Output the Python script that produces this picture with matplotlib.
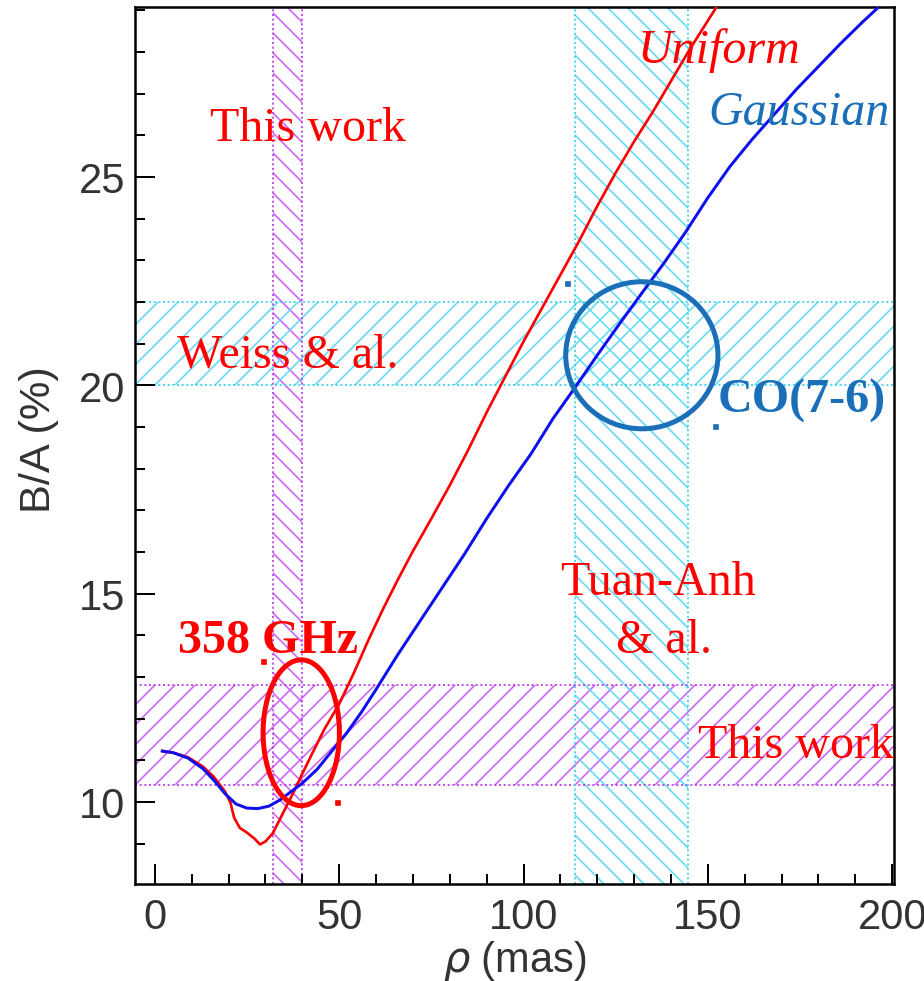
import matplotlib
matplotlib.use("Agg")
import matplotlib.pyplot as plt
from matplotlib.patches import Ellipse

# B/A ratio versus rho for the two disc models
rho_gauss = [2, 5, 9, 13, 16, 19, 22, 25, 28, 31, 34, 37, 40, 44, 48, 52, 56, 60,
             66, 72, 78, 84, 90, 96, 102, 108, 114, 120, 126, 132, 138, 144, 150,
             156, 162, 168, 174, 180, 186, 192, 196]
ba_gauss = [11.22, 11.18, 11.05, 10.80, 10.52, 10.20, 9.95, 9.85, 9.84, 9.90,
            10.05, 10.25, 10.45, 10.78, 11.22, 11.65, 12.15, 12.70, 13.55, 14.35,
            15.15, 15.95, 16.80, 17.60, 18.35, 19.20, 19.95, 20.72, 21.47, 22.20,
            22.92, 23.68, 24.50, 25.25, 25.90, 26.50, 27.10, 27.65, 28.20, 28.72,
            29.05]

rho_unif = [2, 5, 9, 13, 16, 19, 20.5, 21.5, 23, 25, 27, 28.5, 30, 32, 34, 36,
            38, 40, 43, 46, 50, 54, 58, 62, 66, 70, 75, 80, 85, 90, 95, 100, 105,
            110, 115, 120, 125, 130, 135, 140, 145, 150, 152.5]
ba_unif = [11.22, 11.18, 11.07, 10.85, 10.60, 10.25, 9.98, 9.62, 9.38, 9.26,
           9.12, 8.98, 9.05, 9.25, 9.60, 9.95, 10.30, 10.68, 11.22, 11.75, 12.35,
           13.10, 13.90, 14.65, 15.35, 16.02, 16.80, 17.60, 18.45, 19.35, 20.20,
           21.05, 21.85, 22.65, 23.45, 24.30, 25.10, 25.85, 26.55, 27.30, 28.05,
           28.75, 29.10]

# constraint bands: (low, high)
this_work_rho = (32, 40)
this_work_ba = (10.4, 12.8)
tuan_anh_rho = (114, 144.5)
weiss_ba = (20.0, 22.0)

# highlighted solutions: centre x, centre y, width, height
ell_358 = (39.7, 11.66, 20.7, 3.5)
ell_co = (132.1, 20.72, 41.3, 3.53)

MAG = "#cc66f5"
MAG_EDGE = "#b833ee"
CYAN = "#66dcf2"
CYAN_EDGE = "#33d0ee"
RED = "#ff0000"
BLUE = "#1010ee"
DBLUE = "#1a6fb8"

plt.rcParams["hatch.linewidth"] = 1.0

fig = plt.figure(figsize=(7.7, 8.1833), dpi=120)
ax = fig.add_axes([0.1461, 0.0988, 0.8214, 0.8931])
ax.set_xlim(-5.4, 200.5)
ax.set_ylim(8.03, 29.08)

# hatched bands
ax.axvspan(*this_work_rho, facecolor="none", edgecolor=MAG, hatch="\\\\", lw=0, zorder=1)
ax.axhspan(*this_work_ba, facecolor="none", edgecolor=MAG, hatch="//", lw=0, zorder=1)
ax.axvspan(*tuan_anh_rho, facecolor="none", edgecolor=CYAN, hatch="\\\\", lw=0, zorder=1)
ax.axhspan(*weiss_ba, facecolor="none", edgecolor=CYAN, hatch="//", lw=0, zorder=1)
for v in this_work_rho:
    ax.axvline(v, color=MAG_EDGE, ls=(0, (1.2, 1.6)), lw=1.0, zorder=1)
for v in this_work_ba:
    ax.axhline(v, color=MAG_EDGE, ls=(0, (1.2, 1.6)), lw=1.0, zorder=1)
for v in tuan_anh_rho:
    ax.axvline(v, color=CYAN_EDGE, ls=(0, (1.2, 1.6)), lw=1.0, zorder=1)
for v in weiss_ba:
    ax.axhline(v, color=CYAN_EDGE, ls=(0, (1.2, 1.6)), lw=1.0, zorder=1)

# model curves
ax.plot(rho_unif, ba_unif, color=RED, lw=1.6, zorder=3)
ax.plot(rho_gauss, ba_gauss, color=BLUE, lw=1.8, zorder=3)

# circled solutions
x, y, w, h = ell_358
ax.add_patch(Ellipse((x, y), w, h, fill=False, ec=RED, lw=3.0, zorder=4))
ax.plot([x - w / 2 * 0.97, x + w / 2 * 0.97], [y + h / 2 * 0.97, y - h / 2 * 0.97],
        ls="none", marker="s", ms=2.6, color=RED, zorder=4)
x, y, w, h = ell_co
ax.add_patch(Ellipse((x, y), w, h, fill=False, ec=DBLUE, lw=3.0, zorder=4))
ax.plot([x - w / 2 * 0.97, x + w / 2 * 0.97], [y + h / 2 * 0.97, y - h / 2 * 0.97],
        ls="none", marker="s", ms=2.6, color=DBLUE, zorder=4)

# annotations
serif = "Liberation Serif"
tk = dict(family=serif, fontsize=28.8, ha="center", va="baseline", clip_on=False, zorder=5)
ax.text(41.6, 25.89, "This work", color=RED, **tk)
ax.text(36.1, 20.44, "Weiss & al.", color=RED, **tk)
ax.text(136.5, 14.99, "Tuan-Anh", color=RED, **tk)
ax.text(138.2, 13.60, "& al.", color=RED, **tk)
ax.text(173.8, 11.08, "This work", color=RED, **tk)
ax.text(30.6, 13.60, "358 GHz", color=RED, fontweight="bold", **tk)
ax.text(175.4, 19.36, "CO(7-6)", color=DBLUE, fontweight="bold", **tk)
ax.text(153.1, 27.76, "Uniform", color=RED, fontstyle="italic", **tk)
ax.text(174.6, 26.27, "Gaussian", color=DBLUE, fontstyle="italic", **tk)

# axes styling
ax.set_xticks([0, 50, 100, 150, 200])
ax.set_xticks(range(10, 200, 10), minor=True)
ax.set_yticks([10, 15, 20, 25])
ax.set_yticks(range(9, 30), minor=True)
ax.tick_params(which="both", direction="in", top=False, right=False,
               colors="black", labelcolor="#333333", width=1.2)
ax.tick_params(which="major", length=12, labelsize=25)
ax.tick_params(which="minor", length=6)
ax.tick_params(axis="x", pad=8)
ax.tick_params(axis="y", pad=6)
for lab in ax.get_xticklabels() + ax.get_yticklabels():
    lab.set_family("Liberation Sans")
for sp in ax.spines.values():
    sp.set_linewidth(1.5)

fig.text(39 / 924, 1 - 440 / 982, "B/A (%)", rotation=90, ha="center", va="center",
         fontsize=26, color="#333333", family="Liberation Sans")
fig.text(515 / 924, 1 - 961 / 982, r"$\rho$ (mas)", ha="center", va="center",
         fontsize=25, color="#333333", family="Liberation Sans")

fig.savefig("out.png", dpi=120)
